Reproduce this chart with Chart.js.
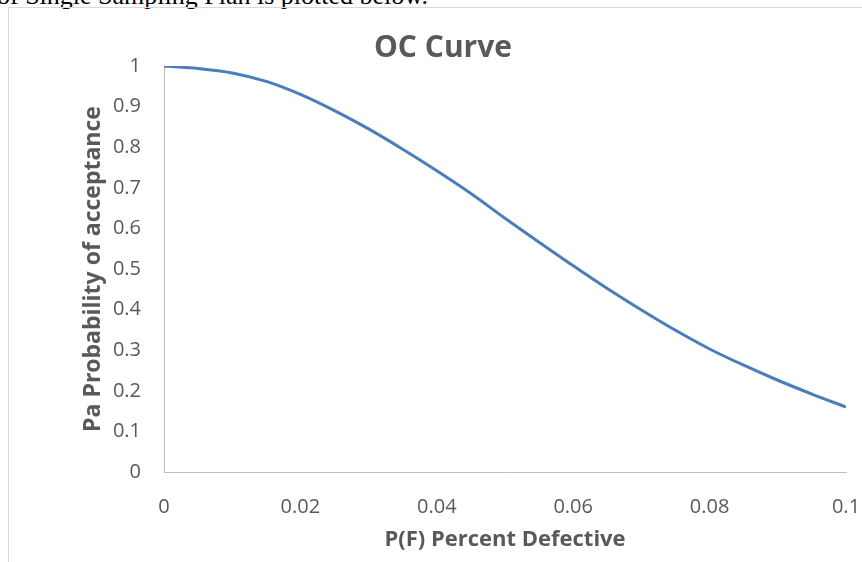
<!DOCTYPE html>
<html>
<head>
<meta charset="utf-8">
<script src="https://cdn.jsdelivr.net/npm/chart.js@4"></script>
<style>
  body { margin: 0; background: #fff; overflow: hidden; }
  #caption {
    position: absolute; left: -3px; top: -17px;
    font: 26px/26px "Liberation Serif", "Times New Roman", serif;
    color: #000; white-space: nowrap;
  }
  #frame {
    position: absolute; left: 8px; top: 7px; width: 900px; height: 600px;
    border-left: 1px solid #d9d9d9; border-top: 1px solid #d9d9d9;
  }
  #wrap { position: absolute; left: 9px; top: 8px; width: 853px; height: 554px; }
</style>
</head>
<body>
<div id="caption">of Single Sampling Plan is plotted below.</div>
<div id="frame"></div>
<div id="wrap"><canvas id="ocChart"></canvas></div>
<script>
// fraction defective vs probability of acceptance
const defective = [0, 0.005, 0.01, 0.015, 0.02, 0.025, 0.03, 0.035, 0.04, 0.045, 0.05,
                   0.055, 0.06, 0.065, 0.07, 0.075, 0.08, 0.085, 0.09, 0.095, 0.1];
const acceptance = [1.000, 0.994, 0.983, 0.962, 0.930, 0.890, 0.845, 0.795, 0.742, 0.686, 0.625,
                    0.566, 0.508, 0.452, 0.399, 0.349, 0.303, 0.263, 0.226, 0.192, 0.160];
const xTickLabels = ["0", "0.02", "0.04", "0.06", "0.08", "0.1"];
const yTickLabels = ["0", "0.1", "0.2", "0.3", "0.4", "0.5", "0.6", "0.7", "0.8", "0.9", "1"];

const grey = "#595959";
const points = defective.map((x, i) => ({ x: x, y: acceptance[i] }));

const ctx = document.getElementById("ocChart").getContext("2d");
new Chart(ctx, {
    type: "line",
    data: {
        datasets: [{
            data: points,
            borderColor: "#4a7ebb",
            borderWidth: 3,
            pointRadius: 0,
            cubicInterpolationMode: "monotone",
            fill: false
        }]
    },
    options: {
        responsive: true,
        maintainAspectRatio: false,
        animation: false,
        layout: { padding: { top: 0, left: 15, right: 0, bottom: 0 } },
        plugins: {
            legend: { display: false },
            tooltip: { enabled: false },
            title: {
                display: true,
                text: "OC Curve",
                color: grey,
                font: { family: "Open Sans", size: 30, weight: "bold" },
                padding: { top: 22, bottom: 0 }
            }
        },
        scales: {
            x: {
                type: "linear",
                min: 0,
                max: 0.1,
                grid: { display: false, drawTicks: false },
                border: { display: true, color: "#bfbfbf", width: 1 },
                ticks: {
                    stepSize: 0.02,
                    color: grey,
                    padding: 23,
                    maxRotation: 0,
                    font: { family: "Open Sans", size: 20 },
                    callback: (v, i) => xTickLabels[i]
                },
                title: {
                    display: true,
                    text: "P(F) Percent Defective",
                    color: grey,
                    font: { family: "Open Sans", size: 22, weight: "bold" },
                    padding: { top: 0, bottom: 9 }
                },
                afterFit: scale => {
                    scale.height = 90;
                    scale.paddingLeft = 0;
                    scale.paddingRight = 16;
                }
            },
            y: {
                min: 0,
                max: 1,
                grid: { display: false, drawTicks: false },
                border: { display: true, color: "#bfbfbf", width: 1 },
                ticks: {
                    stepSize: 0.1,
                    color: grey,
                    padding: 23,
                    font: { family: "Open Sans", size: 20 },
                    callback: (v, i) => yTickLabels[i]
                },
                title: {
                    display: true,
                    text: "Pa Probability of acceptance",
                    color: grey,
                    font: { family: "Open Sans", size: 23, weight: "bold" },
                    padding: { top: 56, bottom: 0 }
                },
                afterFit: scale => { scale.width = 140; }
            }
        }
    }
});
</script>
</body>
</html>
